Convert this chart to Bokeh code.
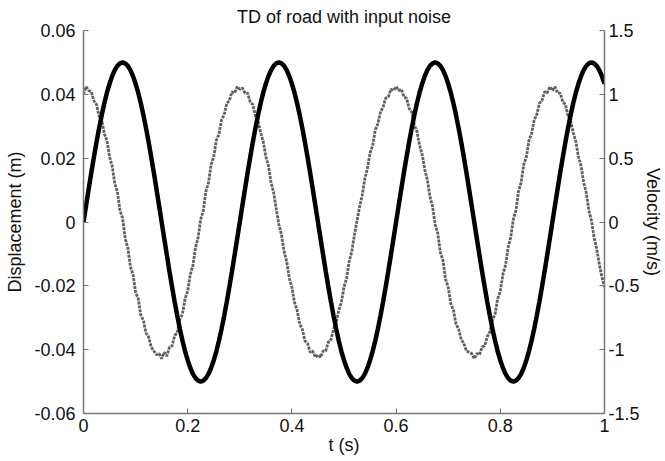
import numpy as np
from bokeh.plotting import figure
from bokeh.models import Range1d, LinearAxis, FixedTicker, CustomJSTickFormatter, ColumnDataSource, Title
from bokeh.embed import file_html
from bokeh.resources import INLINE

# time grid (s), 0.005 s sampling
time_s = np.linspace(0.0, 1.0, 201)

# road displacement (m)
displacement = [
    0.0, 0.0052, 0.0104, 0.0155, 0.0203, 0.0250, 0.0294, 0.0335, 0.0372, 0.0405,
    0.0433, 0.0457, 0.0476, 0.0489, 0.0497, 0.0500, 0.0497, 0.0489, 0.0476, 0.0457,
    0.0433, 0.0405, 0.0372, 0.0335, 0.0294, 0.0250, 0.0203, 0.0155, 0.0104, 0.0052,
    0.0, -0.0052, -0.0104, -0.0155, -0.0203, -0.0250, -0.0294, -0.0335, -0.0372, -0.0405,
    -0.0433, -0.0457, -0.0476, -0.0489, -0.0497, -0.0500, -0.0497, -0.0489, -0.0476, -0.0457,
    -0.0433, -0.0405, -0.0372, -0.0335, -0.0294, -0.0250, -0.0203, -0.0155, -0.0104, -0.0052,
    0.0, 0.0052, 0.0104, 0.0155, 0.0203, 0.0250, 0.0294, 0.0335, 0.0372, 0.0405,
    0.0433, 0.0457, 0.0476, 0.0489, 0.0497, 0.0500, 0.0497, 0.0489, 0.0476, 0.0457,
    0.0433, 0.0405, 0.0372, 0.0335, 0.0294, 0.0250, 0.0203, 0.0155, 0.0104, 0.0052,
    0.0, -0.0052, -0.0104, -0.0155, -0.0203, -0.0250, -0.0294, -0.0335, -0.0372, -0.0405,
    -0.0433, -0.0457, -0.0476, -0.0489, -0.0497, -0.0500, -0.0497, -0.0489, -0.0476, -0.0457,
    -0.0433, -0.0405, -0.0372, -0.0335, -0.0294, -0.0250, -0.0203, -0.0155, -0.0104, -0.0052,
    0.0, 0.0052, 0.0104, 0.0155, 0.0203, 0.0250, 0.0294, 0.0335, 0.0372, 0.0405,
    0.0433, 0.0457, 0.0476, 0.0489, 0.0497, 0.0500, 0.0497, 0.0489, 0.0476, 0.0457,
    0.0433, 0.0405, 0.0372, 0.0335, 0.0294, 0.0250, 0.0203, 0.0155, 0.0104, 0.0052,
    0.0, -0.0052, -0.0104, -0.0155, -0.0203, -0.0250, -0.0294, -0.0335, -0.0372, -0.0405,
    -0.0433, -0.0457, -0.0476, -0.0489, -0.0497, -0.0500, -0.0497, -0.0489, -0.0476, -0.0457,
    -0.0433, -0.0405, -0.0372, -0.0335, -0.0294, -0.0250, -0.0203, -0.0155, -0.0104, -0.0052,
    0.0, 0.0052, 0.0104, 0.0155, 0.0203, 0.0250, 0.0294, 0.0335, 0.0372, 0.0405,
    0.0433, 0.0457, 0.0476, 0.0489, 0.0497, 0.0500, 0.0497, 0.0489, 0.0476, 0.0457,
    0.0433,
]

# noisy velocity (m/s)
velocity = [
    1.00, 1.06, 1.03, 1.02, 0.95, 0.92, 0.83, 0.80, 0.69, 0.64,
    0.51, 0.44, 0.30, 0.24, 0.09, 0.03, -0.13, -0.20, -0.35, -0.41,
    -0.55, -0.60, -0.73, -0.77, -0.87, -0.90, -0.98, -1.01, -1.04, -1.03,
    -1.07, -1.02, -1.05, -0.98, -0.97, -0.89, -0.87, -0.76, -0.72, -0.60,
    -0.54, -0.41, -0.34, -0.20, -0.12, 0.02, 0.09, 0.24, 0.31, 0.45,
    0.51, 0.64, 0.69, 0.80, 0.84, 0.93, 0.95, 1.02, 1.01, 1.06,
    1.04, 1.05, 1.01, 1.01, 0.94, 0.92, 0.83, 0.79, 0.70, 0.63,
    0.51, 0.44, 0.31, 0.23, 0.10, -0.02, -0.10, -0.23, -0.31, -0.44,
    -0.51, -0.63, -0.69, -0.80, -0.84, -0.93, -0.95, -1.02, -1.01, -1.06,
    -1.04, -1.06, -1.01, -1.01, -0.94, -0.92, -0.84, -0.79, -0.69, -0.63,
    -0.51, -0.44, -0.31, -0.23, -0.10, 0.01, 0.12, 0.21, 0.34, 0.42,
    0.54, 0.60, 0.72, 0.77, 0.86, 0.90, 0.97, 0.98, 1.04, 1.03,
    1.06, 1.03, 1.04, 0.98, 0.97, 0.89, 0.86, 0.76, 0.71, 0.60,
    0.53, 0.41, 0.33, 0.20, 0.12, -0.02, -0.09, -0.24, -0.30, -0.45,
    -0.51, -0.64, -0.69, -0.80, -0.84, -0.92, -0.95, -1.01, -1.02, -1.03,
    -1.07, -1.03, -1.04, -0.98, -0.97, -0.90, -0.86, -0.77, -0.72, -0.60,
    -0.54, -0.41, -0.34, -0.20, -0.12, 0.02, 0.09, 0.24, 0.31, 0.45,
    0.51, 0.64, 0.69, 0.80, 0.84, 0.93, 0.95, 1.02, 1.01, 1.06,
    1.03, 1.06, 1.01, 1.01, 0.94, 0.92, 0.83, 0.79, 0.70, 0.63,
    0.51, 0.44, 0.31, 0.23, 0.09, 0.01, -0.12, -0.21, -0.33, -0.43,
    -0.51,
]

x_ticks = [0, 0.2, 0.4, 0.6, 0.8, 1.0]
disp_ticks = [-0.06, -0.04, -0.02, 0, 0.02, 0.04, 0.06]
vel_ticks = [-1.5, -1.0, -0.5, 0, 0.5, 1.0, 1.5]
title_text = "TD of road with input noise"

FONT = "Liberation Sans"
AXIS_COLOR = "#777777"
FS = "18px"

src = ColumnDataSource(dict(t=time_s, d=displacement, v=velocity))

p = figure(width=665, height=461, x_range=Range1d(0, 1), y_range=Range1d(-0.06, 0.06),
           output_backend="svg", toolbar_location=None,
           min_border_left=83, min_border_right=60, min_border_top=0, min_border_bottom=48)
p.extra_y_ranges = {"vel": Range1d(-1.5, 1.5)}
p.grid.visible = False
p.outline_line_color = None
p.background_fill_color = "white"
p.border_fill_color = "white"

p.title = Title(text=title_text, align="center", text_font=FONT, text_font_size=FS,
                text_font_style="normal", text_color="#111111", standoff=8)

# noisy velocity (right axis)
p.line("t", "v", source=src, y_range_name="vel", line_color="#606060", line_width=2.8,
       line_dash="3 1")
# displacement (left axis)
p.line("t", "d", source=src, line_color="black", line_width=4.5)

right = LinearAxis(y_range_name="vel", axis_label="Velocity (m/s)")
p.add_layout(right, "right")


def style(ax, ticks, code):
    ax.ticker = FixedTicker(ticks=ticks)
    ax.formatter = CustomJSTickFormatter(code=code)
    ax.axis_line_color = AXIS_COLOR
    ax.axis_line_width = 1.5
    ax.major_tick_line_color = AXIS_COLOR
    ax.major_tick_line_width = 1
    ax.major_tick_in = 5
    ax.major_tick_out = 0
    ax.minor_tick_line_color = None
    ax.major_label_text_font = FONT
    ax.major_label_text_font_size = FS
    ax.major_label_text_color = "#111111"
    ax.axis_label_text_font = FONT
    ax.axis_label_text_font_size = FS
    ax.axis_label_text_font_style = "normal"
    ax.axis_label_text_color = "#111111"


fmt = "var v = Math.round(tick*1000)/1000; return v.toString();"
style(p.xaxis[0], x_ticks, fmt)
p.xaxis[0].axis_label = "t (s)"
p.xaxis[0].major_label_standoff = 5
p.xaxis[0].axis_label_standoff = 0

style(p.yaxis[0], disp_ticks, "var v = Math.round(tick*1000)/1000; return v == 0 ? '0' : v.toFixed(2);")
p.yaxis[0].axis_label = "Displacement (m)"
p.yaxis[0].major_label_standoff = 8
p.yaxis[0].axis_label_standoff = 6

style(right, vel_ticks, fmt)
right.major_label_standoff = 4
right.axis_label_standoff = 0

open("out.html", "w").write(file_html(p, INLINE))
